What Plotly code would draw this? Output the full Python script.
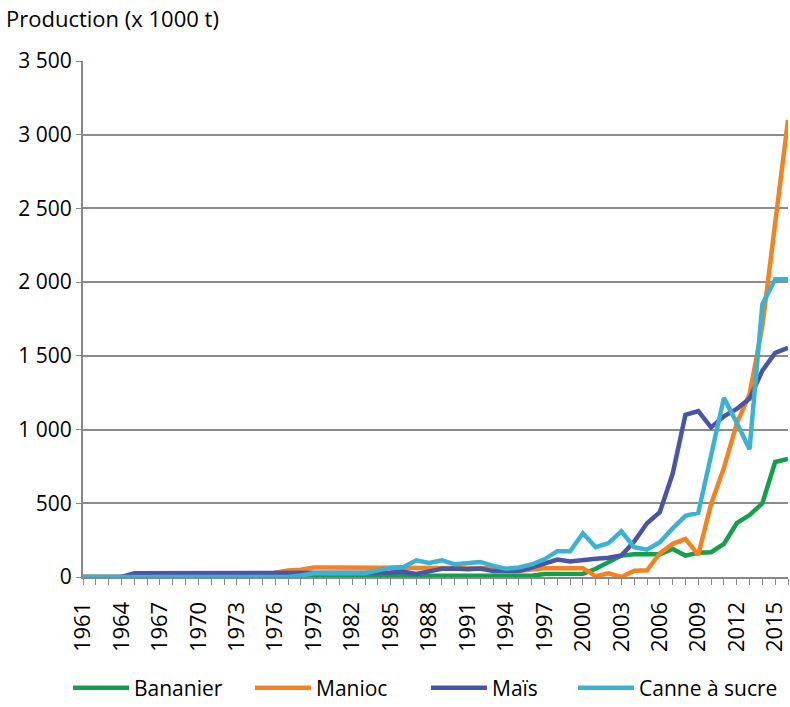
import plotly.graph_objects as go

years = list(range(1961, 2017))

bananier = ([0] * 18 + [8] * 18 + [20, 20, 20, 22] +
            [56, 100, 145, 155, 155, 155, 190, 145, 165, 168, 225, 365, 420, 500, 780, 800])
manioc = ([0] * 15 + [30, 45, 50] + [65] * 6 + [60] * 9 +
          [40, 40, 50, 60, 60, 60, 60] +
          [5, 25, 0, 42, 45, 160, 225, 258, 150, 495, 740, 1040, 1240, 1700, 2400, 3100])
mais = ([0] * 4 + [25] * 20 +
        [30, 36, 20, 38, 56, 58, 52, 58, 40, 40, 40, 63, 90, 118, 105, 117,
         124, 130, 146, 240, 365, 440, 700, 1100, 1125, 1015, 1090, 1140, 1210, 1400, 1520, 1555])
canne = ([0] * 17 + [10] + [25] * 5 +
         [45, 63, 68, 113, 95, 113, 86, 95, 102, 75, 56, 65, 85, 120, 175, 175, 297,
          202, 230, 310, 202, 185, 236, 330, 415, 435, 820, 1215, 1046, 866, 1850, 2020, 2020])

series = [
    ("Bananier", bananier, "#12a04b"),
    ("Manioc", manioc, "#f58220"),
    ("Maïs", mais, "#4b55a6"),
    ("Canne à sucre", canne, "#3cb2d2"),
]
# left edge of each legend entry (px)
legend_x = [68, 250, 426, 573]

font = "Open Sans, Noto Sans, sans-serif"
fig = go.Figure()
layout_legends = {}
for i, (name, vals, col) in enumerate(series):
    key = "legend" if i == 0 else "legend%d" % (i + 1)
    fig.add_trace(go.Scatter(x=years, y=vals, mode="lines", name=name, legend=key,
                             line=dict(color=col, width=4.5)))
    layout_legends[key] = dict(x=legend_x[i] / 790, xanchor="left", xref="container",
                               y=19 / 707, yanchor="middle", yref="container",
                               font=dict(size=21), itemwidth=56, bgcolor="rgba(0,0,0,0)")

fig.update_layout(
    width=790, height=707,
    margin=dict(l=83, r=2, t=61, b=130, autoexpand=False),
    paper_bgcolor="white", plot_bgcolor="white",
    separators=", ",
    font=dict(family=font, size=21, color="black"),
    showlegend=True,
    annotations=[dict(text="Production (x 1000 t)", xref="x domain", yref="y domain",
                      x=(4 - 83) / 705, y=1 + 43 / 516, showarrow=False,
                      xanchor="left", yanchor="middle", font=dict(size=22))],
    **layout_legends,
)

fig.update_xaxes(range=[1961, 2016], tickmode="linear", tick0=1961, dtick=3, automargin=False,
                 tickangle=-90, ticks="outside", ticklen=6, tickcolor="#888888",
                 ticklabelstandoff=8,
                 showgrid=False, showline=True, linecolor="#888888", linewidth=2,
                 minor=dict(dtick=1, ticks="outside", ticklen=6, tickcolor="#888888", showgrid=False),
                 tickfont=dict(size=22))
fig.update_yaxes(range=[0, 3500], dtick=500, tickformat=",d", automargin=False,
                 ticks="outside", ticklen=5, tickcolor="#888888",
                 showgrid=True, gridcolor="#8c8c8c", gridwidth=1.5,
                 showline=True, linecolor="#888888", linewidth=2,
                 zeroline=False, tickfont=dict(size=21))

# the page body has a default 8px margin; drop it so the figure fills the window
fig.write_html("out.html", config={"displayModeBar": False},
               post_script="document.body.style.margin='0';")
